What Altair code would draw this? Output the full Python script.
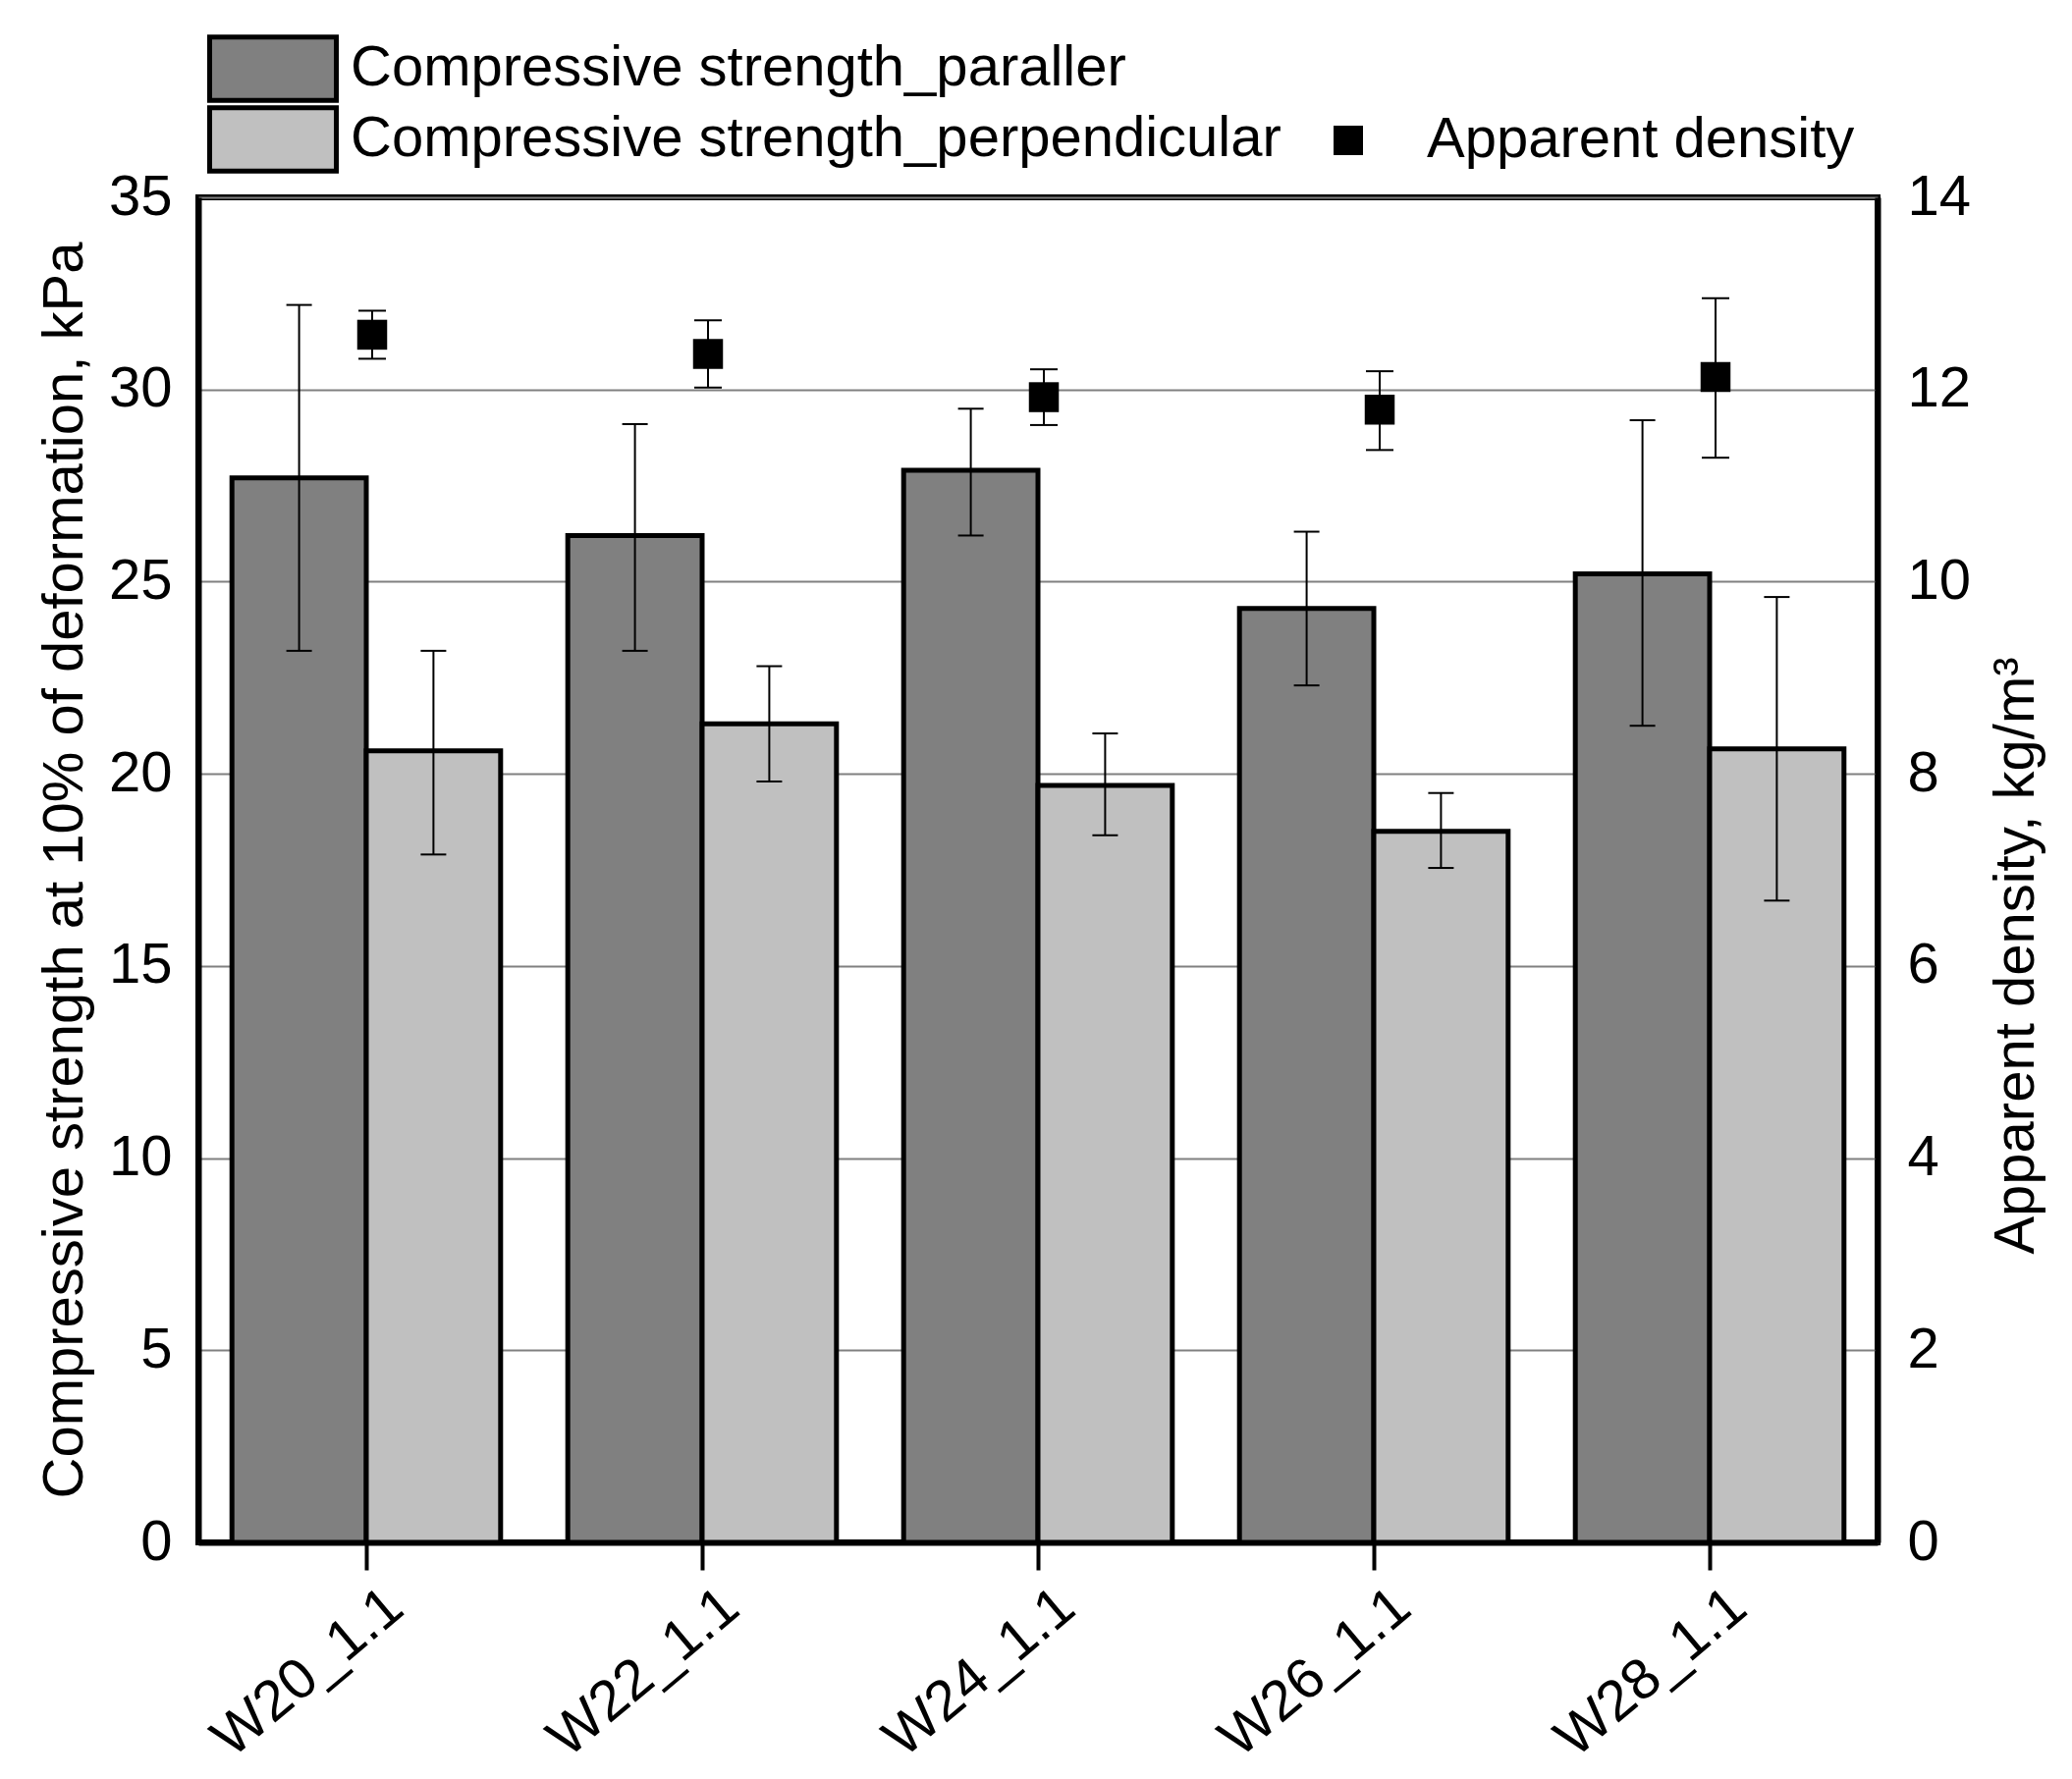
import altair as alt
import pandas as pd

groups = ["W20_1.1", "W22_1.1", "W24_1.1", "W26_1.1", "W28_1.1"]
series_names = ["Compressive strength_paraller", "Compressive strength_perpendicular"]
series_colors = ["#808080", "#c0c0c0"]

par = [27.7, 26.2, 27.9, 24.3, 25.2]
par_lo = [23.2, 23.2, 26.2, 22.3, 21.25]
par_hi = [32.2, 29.1, 29.5, 26.3, 29.2]

perp = [20.6, 21.3, 19.7, 18.5, 20.65]
perp_lo = [17.9, 19.8, 18.4, 17.55, 16.7]
perp_hi = [23.2, 22.8, 21.05, 19.5, 24.6]

dens = [12.57, 12.37, 11.92, 11.79, 12.13]
dens_lo = [12.32, 12.02, 11.63, 11.37, 11.29]
dens_hi = [12.82, 12.72, 12.21, 12.19, 12.95]

dens_label = "Apparent density"

rows = []
for i, g in enumerate(groups):
    rows.append({"group": g, "series": series_names[0], "value": par[i], "lo": par_lo[i], "hi": par_hi[i]})
    rows.append({"group": g, "series": series_names[1], "value": perp[i], "lo": perp_lo[i], "hi": perp_hi[i]})
bars_df = pd.DataFrame(rows)

dens_df = pd.DataFrame({"group": groups, "dens": dens, "lo": dens_lo, "hi": dens_hi,
                        "lab": [dens_label] * len(groups)})

FONT = "Liberation Sans"
FS = 58

x_enc = alt.X("group:N", sort=groups,
              scale=alt.Scale(paddingInner=0.2, paddingOuter=0.1),
              axis=alt.Axis(title=None, labelAngle=320, labelAlign="right", labelBaseline="middle",
                            labelOffset=30, labelPadding=30, tickSize=28, tickWidth=4,
                            tickColor="black", domainColor="black", domainWidth=6,
                            labelFont=FONT, labelFontSize=FS, labelColor="black", grid=False,
                            labelLimit=2000))
xoff = alt.XOffset("series:N", scale=alt.Scale(domain=series_names, paddingInner=0, paddingOuter=0))

left_scale = alt.Scale(domain=[0, 35], nice=False, zero=True)
left_axis = alt.Axis(title="Compressive strength at 10% of deformation, kPa",
                     values=[0, 5, 10, 15, 20, 25, 30, 35], ticks=False, tickSize=0,
                     labelPadding=27, labelFont=FONT, labelFontSize=FS, labelColor="black",
                     domainColor="black", domainWidth=6, grid=True, gridColor="#808080", gridWidth=2,
                     titleFont=FONT, titleFontSize=FS, titleFontWeight="normal", titleColor="black",
                     titleAngle=270, titleAlign="center", titleBaseline="alphabetic",
                     titleX=-119, titleY=685)

legend_y = [-166, -94]


def bar_layer(k):
    return alt.Chart(bars_df).transform_filter(
        alt.datum.series == series_names[k]
    ).mark_bar(stroke="black", strokeWidth=5).encode(
        x=x_enc,
        xOffset=xoff,
        y=alt.Y("value:Q", scale=left_scale, axis=left_axis),
        color=alt.Color("series:N",
                        scale=alt.Scale(domain=[series_names[k]], range=[series_colors[k]]),
                        legend=alt.Legend(title=None, orient="none", legendX=41, legendY=legend_y[k],
                                          direction="vertical",
                                          symbolType="M-2,-1H2V1H-2Z", symbolSize=4160,
                                          symbolStrokeColor="black", symbolStrokeWidth=5,
                                          labelFont=FONT, labelFontSize=FS, labelColor="black",
                                          labelOffset=44, labelLimit=2000, padding=0)),
    )


err_rule = alt.Chart(bars_df).mark_rule(color="black", strokeWidth=2).encode(
    x=x_enc, xOffset=xoff,
    y=alt.Y("lo:Q", scale=left_scale, axis=left_axis), y2="hi:Q")
err_top = alt.Chart(bars_df).mark_tick(color="black", thickness=2, size=26, opacity=1).encode(
    x=x_enc, xOffset=xoff, y=alt.Y("hi:Q", scale=left_scale, axis=left_axis))
err_bot = alt.Chart(bars_df).mark_tick(color="black", thickness=2, size=26, opacity=1).encode(
    x=x_enc, xOffset=xoff, y=alt.Y("lo:Q", scale=left_scale, axis=left_axis))

left_layer = alt.layer(bar_layer(0), bar_layer(1), err_rule, err_top, err_bot).resolve_scale(
    color="independent")

right_scale = alt.Scale(domain=[0, 14], nice=False, zero=True)
right_axis = alt.Axis(title="Apparent density, kg/m³", orient="right",
                      values=[0, 2, 4, 6, 8, 10, 12, 14], ticks=False, tickSize=0,
                      labelPadding=30, labelFont=FONT, labelFontSize=FS, labelColor="black",
                      domainColor="black", domainWidth=6, grid=False,
                      titleFont=FONT, titleFontSize=FS, titleFontWeight="normal", titleColor="black",
                      titleAngle=270, titleAlign="center", titleBaseline="alphabetic",
                      titleX=158, titleY=772)

d_rule = alt.Chart(dens_df).mark_rule(color="black", strokeWidth=2, xOffset=6).encode(
    x=x_enc, y=alt.Y("lo:Q", scale=right_scale, axis=right_axis), y2="hi:Q")
d_top = alt.Chart(dens_df).mark_tick(color="black", thickness=2, size=28, opacity=1, xOffset=6).encode(
    x=x_enc, y=alt.Y("hi:Q", scale=right_scale, axis=right_axis))
d_bot = alt.Chart(dens_df).mark_tick(color="black", thickness=2, size=28, opacity=1, xOffset=6).encode(
    x=x_enc, y=alt.Y("lo:Q", scale=right_scale, axis=right_axis))
d_pt = alt.Chart(dens_df).mark_point(filled=True, size=930, color="black", opacity=1, xOffset=6).encode(
    x=x_enc,
    y=alt.Y("dens:Q", scale=right_scale, axis=right_axis),
    shape=alt.Shape("lab:N", scale=alt.Scale(domain=[dens_label], range=["square"]),
                    legend=alt.Legend(title=None, orient="none", legendX=1142, legendY=-87,
                                      symbolSize=900, symbolFillColor="black", symbolStrokeWidth=0,
                                      labelFont=FONT, labelFontSize=FS, labelColor="black",
                                      labelOffset=51, labelLimit=2000, padding=0)),
)

right_layer = alt.layer(d_rule, d_top, d_bot, d_pt)

chart = alt.layer(left_layer, right_layer).resolve_scale(
    y="independent", color="independent", shape="independent"
).properties(
    width=1710, height=1370,
    background="white",
    autosize=alt.AutoSizeParams(type="none"),
    padding={"left": 194, "top": 193, "right": 180, "bottom": 240},
).configure_view(
    stroke="black", strokeWidth=6
).configure_axis(
    domainWidth=6, domainColor="black"
)

chart.save("out.html", embed_options={"renderer": "svg", "actions": False})
